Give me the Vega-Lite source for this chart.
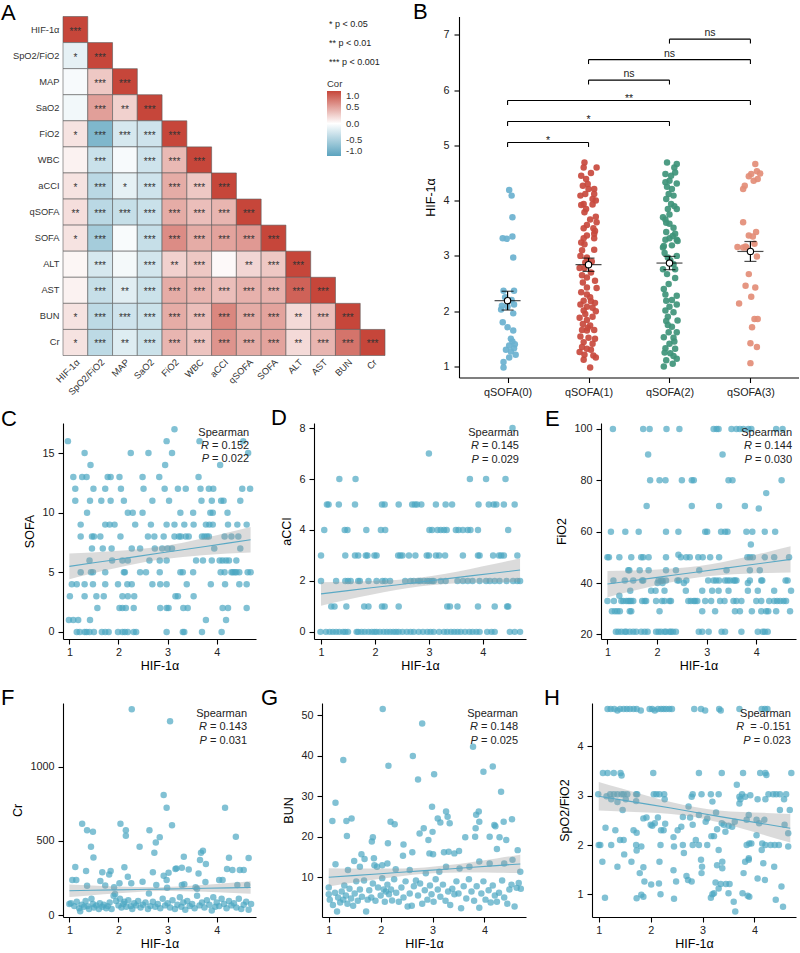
{
"$schema": "https://vega.github.io/schema/vega-lite/v6.json",
"padding": {"left": 1, "top": 0.5, "right": 0, "bottom": 0},
"background": "white",
"config": {
 "font": "Liberation Sans",
 "view": {"stroke": null},
 "axis": {"grid": false, "domainColor": "#000", "domainWidth": 1.1, "tickColor": "#000", "tickWidth": 1.1, "tickSize": 5, "labelColor": "#222", "labelFontSize": 10.8, "labelFont": "Liberation Sans", "titleFont": "Liberation Sans", "titleFontSize": 12.5, "titleFontWeight": "normal", "titleColor": "#000", "labelOverlap": false},
 "axisX": {"labelPadding": 2, "titlePadding": 3},
 "axisY": {"labelPadding": 4, "titlePadding": 5},
 "axisQuantitative": {"format": "d"},
 "title": {"fontSize": 22, "fontWeight": "normal", "anchor": "start", "frame": "group", "offset": 0, "font": "Liberation Sans", "color": "#000"},
 "text": {"font": "Liberation Sans"}
},
"datasets": {
 "corr": [
{"r":"HIF-1α","c":"HIF-1α","v":1,"s":"***"},
{"r":"SpO2/FiO2","c":"HIF-1α","v":-0.15,"s":"*"},
{"r":"SpO2/FiO2","c":"SpO2/FiO2","v":1,"s":"***"},
{"r":"MAP","c":"HIF-1α","v":-0.05,"s":""},
{"r":"MAP","c":"SpO2/FiO2","v":0.3,"s":"***"},
{"r":"MAP","c":"MAP","v":1,"s":"***"},
{"r":"SaO2","c":"HIF-1α","v":-0.08,"s":""},
{"r":"SaO2","c":"SpO2/FiO2","v":0.52,"s":"***"},
{"r":"SaO2","c":"MAP","v":0.25,"s":"**"},
{"r":"SaO2","c":"SaO2","v":1,"s":"***"},
{"r":"FiO2","c":"HIF-1α","v":0.15,"s":"*"},
{"r":"FiO2","c":"SpO2/FiO2","v":-0.78,"s":"***"},
{"r":"FiO2","c":"MAP","v":-0.25,"s":"***"},
{"r":"FiO2","c":"SaO2","v":-0.3,"s":"***"},
{"r":"FiO2","c":"FiO2","v":1,"s":"***"},
{"r":"WBC","c":"HIF-1α","v":0.07,"s":""},
{"r":"WBC","c":"SpO2/FiO2","v":-0.33,"s":"***"},
{"r":"WBC","c":"MAP","v":-0.05,"s":""},
{"r":"WBC","c":"SaO2","v":-0.3,"s":"***"},
{"r":"WBC","c":"FiO2","v":0.38,"s":"***"},
{"r":"WBC","c":"WBC","v":1,"s":"***"},
{"r":"aCCI","c":"HIF-1α","v":0.15,"s":"*"},
{"r":"aCCI","c":"SpO2/FiO2","v":-0.42,"s":"***"},
{"r":"aCCI","c":"MAP","v":-0.15,"s":"*"},
{"r":"aCCI","c":"SaO2","v":-0.3,"s":"***"},
{"r":"aCCI","c":"FiO2","v":0.45,"s":"***"},
{"r":"aCCI","c":"WBC","v":0.3,"s":"***"},
{"r":"aCCI","c":"aCCI","v":1,"s":"***"},
{"r":"qSOFA","c":"HIF-1α","v":0.18,"s":"**"},
{"r":"qSOFA","c":"SpO2/FiO2","v":-0.42,"s":"***"},
{"r":"qSOFA","c":"MAP","v":-0.35,"s":"***"},
{"r":"qSOFA","c":"SaO2","v":-0.33,"s":"***"},
{"r":"qSOFA","c":"FiO2","v":0.45,"s":"***"},
{"r":"qSOFA","c":"WBC","v":0.35,"s":"***"},
{"r":"qSOFA","c":"aCCI","v":0.4,"s":"***"},
{"r":"qSOFA","c":"qSOFA","v":1,"s":"***"},
{"r":"SOFA","c":"HIF-1α","v":0.15,"s":"*"},
{"r":"SOFA","c":"SpO2/FiO2","v":-0.55,"s":"***"},
{"r":"SOFA","c":"MAP","v":-0.04,"s":""},
{"r":"SOFA","c":"SaO2","v":-0.35,"s":"***"},
{"r":"SOFA","c":"FiO2","v":0.62,"s":"***"},
{"r":"SOFA","c":"WBC","v":0.45,"s":"***"},
{"r":"SOFA","c":"aCCI","v":0.5,"s":"***"},
{"r":"SOFA","c":"qSOFA","v":0.55,"s":"***"},
{"r":"SOFA","c":"SOFA","v":1,"s":"***"},
{"r":"ALT","c":"HIF-1α","v":0.05,"s":""},
{"r":"ALT","c":"SpO2/FiO2","v":-0.25,"s":"***"},
{"r":"ALT","c":"MAP","v":-0.07,"s":""},
{"r":"ALT","c":"SaO2","v":-0.27,"s":"***"},
{"r":"ALT","c":"FiO2","v":0.25,"s":"**"},
{"r":"ALT","c":"WBC","v":0.3,"s":"***"},
{"r":"ALT","c":"aCCI","v":0.03,"s":""},
{"r":"ALT","c":"qSOFA","v":0.22,"s":"**"},
{"r":"ALT","c":"SOFA","v":0.3,"s":"***"},
{"r":"ALT","c":"ALT","v":1,"s":"***"},
{"r":"AST","c":"HIF-1α","v":0.07,"s":""},
{"r":"AST","c":"SpO2/FiO2","v":-0.35,"s":"***"},
{"r":"AST","c":"MAP","v":-0.18,"s":"**"},
{"r":"AST","c":"SaO2","v":-0.32,"s":"***"},
{"r":"AST","c":"FiO2","v":0.45,"s":"***"},
{"r":"AST","c":"WBC","v":0.4,"s":"***"},
{"r":"AST","c":"aCCI","v":0.35,"s":"***"},
{"r":"AST","c":"qSOFA","v":0.42,"s":"***"},
{"r":"AST","c":"SOFA","v":0.42,"s":"***"},
{"r":"AST","c":"ALT","v":0.85,"s":"***"},
{"r":"AST","c":"AST","v":1,"s":"***"},
{"r":"BUN","c":"HIF-1α","v":0.15,"s":"*"},
{"r":"BUN","c":"SpO2/FiO2","v":-0.4,"s":"***"},
{"r":"BUN","c":"MAP","v":-0.3,"s":"***"},
{"r":"BUN","c":"SaO2","v":-0.32,"s":"***"},
{"r":"BUN","c":"FiO2","v":0.45,"s":"***"},
{"r":"BUN","c":"WBC","v":0.35,"s":"***"},
{"r":"BUN","c":"aCCI","v":0.65,"s":"***"},
{"r":"BUN","c":"qSOFA","v":0.45,"s":"***"},
{"r":"BUN","c":"SOFA","v":0.5,"s":"***"},
{"r":"BUN","c":"ALT","v":0.2,"s":"**"},
{"r":"BUN","c":"AST","v":0.35,"s":"***"},
{"r":"BUN","c":"BUN","v":1,"s":"***"},
{"r":"Cr","c":"HIF-1α","v":0.15,"s":"*"},
{"r":"Cr","c":"SpO2/FiO2","v":-0.4,"s":"***"},
{"r":"Cr","c":"MAP","v":-0.2,"s":"**"},
{"r":"Cr","c":"SaO2","v":-0.32,"s":"***"},
{"r":"Cr","c":"FiO2","v":0.4,"s":"***"},
{"r":"Cr","c":"WBC","v":0.32,"s":"***"},
{"r":"Cr","c":"aCCI","v":0.58,"s":"***"},
{"r":"Cr","c":"qSOFA","v":0.45,"s":"***"},
{"r":"Cr","c":"SOFA","v":0.5,"s":"***"},
{"r":"Cr","c":"ALT","v":0.2,"s":"**"},
{"r":"Cr","c":"AST","v":0.4,"s":"***"},
{"r":"Cr","c":"BUN","v":0.75,"s":"***"},
{"r":"Cr","c":"Cr","v":1,"s":"***"}
 ],
 "bpts": [
{"g":0,"x":0.02,"y":4.19},{"g":0,"x":0.05,"y":4.09},{"g":0,"x":0.06,"y":3.7},{"g":0,"x":-0.06,"y":3.32},{"g":0,"x":-0.01,"y":3.31},{"g":0,"x":0.06,"y":3.35},{"g":0,"x":0.07,"y":2.97},{"g":0,"x":-0.05,"y":2.37},{"g":0,"x":0.08,"y":2.37},{"g":0,"x":-0.07,"y":2.1},{"g":0,"x":0.0,"y":2.08},{"g":0,"x":0.08,"y":2.12},{"g":0,"x":0.07,"y":1.96},{"g":0,"x":-0.06,"y":1.8},{"g":0,"x":0.0,"y":1.71},{"g":0,"x":0.07,"y":1.65},{"g":0,"x":0.04,"y":1.5},{"g":0,"x":0.02,"y":1.38},{"g":0,"x":0.08,"y":1.33},{"g":0,"x":0.04,"y":1.27},{"g":0,"x":0.1,"y":1.21},{"g":0,"x":0.02,"y":1.16},{"g":0,"x":-0.05,"y":1.08},{"g":0,"x":-0.05,"y":0.98},{"g":0,"x":-0.03,"y":2.25},{"g":0,"x":0.05,"y":2.2},{"g":0,"x":-0.08,"y":2.03},{"g":0,"x":0.06,"y":1.45},{"g":0,"x":-0.02,"y":1.3},{"g":0,"x":0.09,"y":1.4},
{"g":1,"x":0.95,"y":4.69},{"g":1,"x":0.94,"y":4.6},{"g":1,"x":1.1,"y":4.6},{"g":1,"x":0.91,"y":4.45},{"g":1,"x":0.97,"y":4.39},{"g":1,"x":0.93,"y":4.27},{"g":1,"x":1.0,"y":4.21},{"g":1,"x":1.07,"y":4.21},{"g":1,"x":0.96,"y":4.12},{"g":1,"x":1.07,"y":4.12},{"g":1,"x":0.9,"y":4.09},{"g":1,"x":1.05,"y":4.03},{"g":1,"x":0.94,"y":3.94},{"g":1,"x":1.05,"y":3.93},{"g":1,"x":0.91,"y":3.92},{"g":1,"x":0.95,"y":3.79},{"g":1,"x":1.09,"y":3.71},{"g":1,"x":1.1,"y":3.61},{"g":1,"x":0.98,"y":3.56},{"g":1,"x":1.06,"y":3.5},{"g":1,"x":0.94,"y":3.5},{"g":1,"x":1.07,"y":3.4},{"g":1,"x":0.98,"y":3.37},{"g":1,"x":0.94,"y":3.32},{"g":1,"x":0.91,"y":3.24},{"g":1,"x":1.07,"y":3.32},{"g":1,"x":0.95,"y":3.21},{"g":1,"x":1.07,"y":3.11},{"g":1,"x":0.9,"y":3.0},{"g":1,"x":0.98,"y":2.97},{"g":1,"x":0.89,"y":2.78},{"g":1,"x":0.95,"y":2.78},{"g":1,"x":1.03,"y":2.7},{"g":1,"x":0.98,"y":2.61},{"g":1,"x":0.93,"y":2.52},{"g":1,"x":0.98,"y":2.43},{"g":1,"x":1.1,"y":2.42},{"g":1,"x":0.91,"y":2.34},{"g":1,"x":0.98,"y":2.3},{"g":1,"x":0.94,"y":2.19},{"g":1,"x":1.03,"y":2.18},{"g":1,"x":0.9,"y":2.12},{"g":1,"x":0.98,"y":2.08},{"g":1,"x":1.05,"y":2.06},{"g":1,"x":0.94,"y":2.01},{"g":1,"x":1.09,"y":2.0},{"g":1,"x":0.89,"y":1.88},{"g":1,"x":0.98,"y":1.84},{"g":1,"x":0.93,"y":1.77},{"g":1,"x":1.02,"y":1.74},{"g":1,"x":0.92,"y":1.66},{"g":1,"x":0.98,"y":1.65},{"g":1,"x":1.07,"y":1.66},{"g":1,"x":0.9,"y":1.54},{"g":1,"x":1.0,"y":1.52},{"g":1,"x":0.94,"y":1.44},{"g":1,"x":1.05,"y":1.41},{"g":1,"x":0.92,"y":1.35},{"g":1,"x":0.98,"y":1.32},{"g":1,"x":0.89,"y":1.26},{"g":1,"x":0.95,"y":1.21},{"g":1,"x":1.09,"y":1.16},{"g":1,"x":1.02,"y":0.98},{"g":1,"x":1.03,"y":4.5},{"g":1,"x":0.99,"y":4.3},{"g":1,"x":1.09,"y":4.0},{"g":1,"x":0.97,"y":3.85},{"g":1,"x":1.02,"y":3.66},{"g":1,"x":1.08,"y":3.45},{"g":1,"x":0.92,"y":3.1},{"g":1,"x":1.04,"y":2.9},{"g":1,"x":0.96,"y":2.88},{"g":1,"x":1.08,"y":2.55},{"g":1,"x":0.92,"y":2.65},{"g":1,"x":1.02,"y":2.25},{"g":1,"x":1.08,"y":2.15},{"g":1,"x":0.96,"y":1.95},{"g":1,"x":1.05,"y":1.9},{"g":1,"x":0.99,"y":1.7},{"g":1,"x":1.08,"y":1.5},{"g":1,"x":1.03,"y":1.3},{"g":1,"x":0.94,"y":1.12},{"g":1,"x":1.06,"y":1.2},
{"g":2,"x":1.97,"y":4.69},{"g":2,"x":2.09,"y":4.66},{"g":2,"x":2.06,"y":4.6},{"g":2,"x":1.95,"y":4.48},{"g":2,"x":2.07,"y":4.51},{"g":2,"x":2.0,"y":4.36},{"g":2,"x":2.09,"y":4.31},{"g":2,"x":1.95,"y":4.33},{"g":2,"x":2.03,"y":4.21},{"g":2,"x":1.99,"y":4.12},{"g":2,"x":2.05,"y":4.09},{"g":2,"x":1.96,"y":4.03},{"g":2,"x":2.02,"y":3.94},{"g":2,"x":1.98,"y":3.85},{"g":2,"x":2.09,"y":3.85},{"g":2,"x":2.0,"y":3.75},{"g":2,"x":1.92,"y":3.7},{"g":2,"x":1.95,"y":3.66},{"g":2,"x":2.0,"y":3.58},{"g":2,"x":2.05,"y":3.51},{"g":2,"x":1.96,"y":3.43},{"g":2,"x":2.07,"y":3.4},{"g":2,"x":2.0,"y":3.32},{"g":2,"x":1.95,"y":3.29},{"g":2,"x":2.09,"y":3.29},{"g":2,"x":1.92,"y":3.15},{"g":2,"x":2.03,"y":3.19},{"g":2,"x":2.1,"y":3.27},{"g":2,"x":1.93,"y":3.18},{"g":2,"x":2.09,"y":3.0},{"g":2,"x":1.98,"y":2.97},{"g":2,"x":2.05,"y":2.85},{"g":2,"x":1.92,"y":2.76},{"g":2,"x":2.07,"y":2.76},{"g":2,"x":1.97,"y":2.67},{"g":2,"x":1.99,"y":2.49},{"g":2,"x":1.93,"y":2.4},{"g":2,"x":2.09,"y":2.28},{"g":2,"x":1.96,"y":2.19},{"g":2,"x":2.09,"y":2.12},{"g":2,"x":2.0,"y":2.08},{"g":2,"x":1.95,"y":2.01},{"g":2,"x":2.05,"y":1.98},{"g":2,"x":1.98,"y":1.9},{"g":2,"x":2.1,"y":1.83},{"g":2,"x":1.96,"y":1.82},{"g":2,"x":2.03,"y":1.72},{"g":2,"x":1.99,"y":1.62},{"g":2,"x":2.09,"y":1.62},{"g":2,"x":1.93,"y":1.53},{"g":2,"x":2.05,"y":1.52},{"g":2,"x":2.0,"y":1.41},{"g":2,"x":1.95,"y":1.33},{"g":2,"x":2.07,"y":1.32},{"g":2,"x":2.01,"y":1.24},{"g":2,"x":2.05,"y":1.19},{"g":2,"x":2.09,"y":1.14},{"g":2,"x":1.96,"y":1.11},{"g":2,"x":1.93,"y":1.0},{"g":2,"x":2.02,"y":4.45},{"g":2,"x":1.97,"y":4.25},{"g":2,"x":2.06,"y":3.9},{"g":2,"x":1.96,"y":3.6},{"g":2,"x":2.04,"y":3.36},{"g":2,"x":1.94,"y":3.05},{"g":2,"x":2.01,"y":2.92},{"g":2,"x":2.07,"y":2.6},{"g":2,"x":1.95,"y":2.3},{"g":2,"x":2.03,"y":2.2},{"g":2,"x":1.98,"y":1.75},{"g":2,"x":2.06,"y":1.45},{"g":2,"x":1.94,"y":1.25},{"g":2,"x":2.04,"y":1.05},
{"g":3,"x":3.06,"y":4.66},{"g":3,"x":3.08,"y":4.53},{"g":3,"x":3.01,"y":4.48},{"g":3,"x":3.12,"y":4.49},{"g":3,"x":2.98,"y":4.44},{"g":3,"x":3.04,"y":4.36},{"g":3,"x":3.09,"y":4.39},{"g":3,"x":2.93,"y":4.27},{"g":3,"x":2.91,"y":4.21},{"g":3,"x":2.91,"y":3.61},{"g":3,"x":3.07,"y":3.43},{"g":3,"x":2.98,"y":3.37},{"g":3,"x":3.03,"y":3.35},{"g":3,"x":2.91,"y":3.15},{"g":3,"x":2.95,"y":3.15},{"g":3,"x":2.84,"y":3.16},{"g":3,"x":2.94,"y":3.17},{"g":3,"x":3.08,"y":2.99},{"g":3,"x":3.05,"y":3.22},{"g":3,"x":2.98,"y":2.67},{"g":3,"x":2.94,"y":2.46},{"g":3,"x":3.06,"y":2.43},{"g":3,"x":3.01,"y":2.26},{"g":3,"x":2.86,"y":2.14},{"g":3,"x":3.05,"y":1.86},{"g":3,"x":3.09,"y":1.86},{"g":3,"x":3.02,"y":1.71},{"g":3,"x":3.0,"y":1.42},{"g":3,"x":3.08,"y":1.35},{"g":3,"x":3.0,"y":1.06}
 ],
 "bsum": [
{"g":0,"m":2.19,"lo":2.02,"hi":2.36},{"g":1,"m":2.84,"lo":2.72,"hi":2.96},{"g":2,"m":2.87,"lo":2.75,"hi":2.99},{"g":3,"m":3.08,"lo":2.9,"hi":3.26}
 ],
 "bbr": [
{"a":0,"b":1,"m":0.5,"h":5.05,"t":4.97,"lab":"*"},
{"a":0,"b":2,"m":1,"h":5.43,"t":5.35,"lab":"*"},
{"a":0,"b":3,"m":1.5,"h":5.81,"t":5.73,"lab":"**"},
{"a":1,"b":2,"m":1.5,"h":6.18,"t":6.1,"lab":"ns"},
{"a":1,"b":3,"m":2,"h":6.55,"t":6.47,"lab":"ns"},
{"a":2,"b":3,"m":2.5,"h":6.92,"t":6.84,"lab":"ns"}
 ],
 "c": [
{"x":1.08,"y":13},{"x":1.26,"y":13},{"x":1.35,"y":13},{"x":1.78,"y":13},{"x":1.84,"y":13},{"x":2.02,"y":13},{"x":2.49,"y":13},{"x":2.83,"y":13},{"x":3.63,"y":13},
{"x":1.12,"y":12},{"x":1.49,"y":12},{"x":1.73,"y":12},{"x":2.05,"y":12},{"x":2.51,"y":12},{"x":2.94,"y":12},{"x":3.21,"y":12},{"x":3.37,"y":12},{"x":3.67,"y":12},{"x":3.84,"y":12},{"x":3.93,"y":12},{"x":4.52,"y":12},{"x":4.68,"y":12},
{"x":1.12,"y":11},{"x":1.42,"y":11},{"x":1.65,"y":11},{"x":1.84,"y":11},{"x":2.11,"y":11},{"x":2.69,"y":11},{"x":3.03,"y":11},{"x":3.69,"y":11},{"x":3.9,"y":11},{"x":4.09,"y":11},{"x":4.14,"y":11},{"x":4.48,"y":11},
{"x":1.36,"y":10},{"x":2.19,"y":10},{"x":2.29,"y":10},{"x":2.49,"y":10},{"x":3.26,"y":10},{"x":3.52,"y":10},{"x":3.87,"y":10},{"x":3.92,"y":10},{"x":4.22,"y":10},
{"x":1.23,"y":9},{"x":1.73,"y":9},{"x":1.82,"y":9},{"x":1.92,"y":9},{"x":2.34,"y":9},{"x":2.66,"y":9},{"x":2.98,"y":9},{"x":3.14,"y":9},{"x":3.34,"y":9},{"x":3.53,"y":9},{"x":3.78,"y":9},{"x":3.85,"y":9},{"x":3.92,"y":9},{"x":4.23,"y":9},{"x":4.42,"y":9},{"x":4.61,"y":9},
{"x":1.23,"y":8},{"x":1.46,"y":8},{"x":1.5,"y":8},{"x":1.63,"y":8},{"x":2.04,"y":8},{"x":2.6,"y":8},{"x":2.73,"y":8},{"x":2.92,"y":8},{"x":3.14,"y":8},{"x":3.23,"y":8},{"x":3.27,"y":8},{"x":3.37,"y":8},{"x":3.43,"y":8},{"x":3.7,"y":8},{"x":3.75,"y":8},{"x":3.8,"y":8},{"x":3.84,"y":8},{"x":4.16,"y":8},{"x":4.3,"y":8},{"x":4.44,"y":8},
{"x":1.46,"y":7},{"x":1.68,"y":7},{"x":1.86,"y":7},{"x":2.27,"y":7},{"x":2.44,"y":7},{"x":2.74,"y":7},{"x":2.89,"y":7},{"x":3.0,"y":7},{"x":3.09,"y":7},{"x":3.95,"y":7},{"x":4.48,"y":7},
{"x":1.41,"y":6},{"x":1.87,"y":6},{"x":2.08,"y":6},{"x":2.19,"y":6},{"x":2.63,"y":6},{"x":2.84,"y":6},{"x":2.98,"y":6},{"x":3.58,"y":6},{"x":3.72,"y":6},{"x":3.9,"y":6},{"x":4.06,"y":6},{"x":4.12,"y":6},{"x":4.19,"y":6},{"x":4.25,"y":6},{"x":4.4,"y":6},
{"x":1.23,"y":5},{"x":1.44,"y":5},{"x":1.48,"y":5},{"x":1.73,"y":5},{"x":2.11,"y":5},{"x":2.13,"y":5},{"x":2.44,"y":5},{"x":2.56,"y":5},{"x":2.84,"y":5},{"x":3.26,"y":5},{"x":3.31,"y":5},{"x":3.52,"y":5},{"x":4.08,"y":5},{"x":4.16,"y":5},{"x":4.3,"y":5},{"x":4.33,"y":5},{"x":4.37,"y":5},{"x":4.4,"y":5},{"x":4.46,"y":5},{"x":4.63,"y":5},{"x":4.69,"y":5},
{"x":1.05,"y":4},{"x":1.15,"y":4},{"x":1.31,"y":4},{"x":1.48,"y":4},{"x":1.73,"y":4},{"x":1.99,"y":4},{"x":2.18,"y":4},{"x":2.27,"y":4},{"x":2.69,"y":4},{"x":2.85,"y":4},{"x":2.98,"y":4},{"x":3.39,"y":4},{"x":3.88,"y":4},{"x":4.17,"y":4},{"x":4.46,"y":4},{"x":4.61,"y":4},
{"x":1.01,"y":3},{"x":1.31,"y":3},{"x":1.55,"y":3},{"x":1.7,"y":3},{"x":2.08,"y":3},{"x":2.19,"y":3},{"x":2.32,"y":3},{"x":3.16,"y":3},{"x":3.21,"y":3},{"x":3.53,"y":3},
{"x":1.57,"y":2},{"x":2.02,"y":2},{"x":2.08,"y":2},{"x":2.15,"y":2},{"x":2.31,"y":2},{"x":2.85,"y":2},{"x":2.98,"y":2},{"x":3.02,"y":2},{"x":3.32,"y":2},{"x":3.41,"y":2},{"x":4.12,"y":2},{"x":4.23,"y":2},{"x":4.61,"y":2},
{"x":0.99,"y":1},{"x":1.08,"y":1},{"x":1.18,"y":1},{"x":1.42,"y":1},{"x":3.78,"y":1},{"x":4.19,"y":1},
{"x":1.15,"y":0},{"x":1.21,"y":0},{"x":1.31,"y":0},{"x":1.35,"y":0},{"x":1.41,"y":0},{"x":1.5,"y":0},{"x":1.66,"y":0},{"x":1.73,"y":0},{"x":1.8,"y":0},{"x":1.99,"y":0},{"x":2.08,"y":0},{"x":2.13,"y":0},{"x":2.19,"y":0},{"x":2.31,"y":0},{"x":2.36,"y":0},{"x":2.98,"y":0},{"x":3.31,"y":0},{"x":3.34,"y":0},{"x":3.7,"y":0},{"x":4.1,"y":0},
{"x":1.43,"y":14},{"x":2.95,"y":14},{"x":4.07,"y":14},
{"x":1.31,"y":15},{"x":2.25,"y":15},{"x":2.61,"y":15},{"x":3.09,"y":15},{"x":4.64,"y":15},
{"x":0.97,"y":16},{"x":2.98,"y":16},{"x":3.65,"y":16},{"x":4.54,"y":16},
{"x":3.14,"y":17}
 ],
 "cf": [
{"x":1.0,"lo":4.43,"hi":6.57,"fit":5.5},{"x":1.46,"lo":4.9,"hi":6.66,"fit":5.78},{"x":1.93,"lo":5.34,"hi":6.78,"fit":6.06},{"x":2.39,"lo":5.74,"hi":6.94,"fit":6.34},{"x":2.85,"lo":6.07,"hi":7.17,"fit":6.62},{"x":3.31,"lo":6.29,"hi":7.49,"fit":6.89},{"x":3.77,"lo":6.45,"hi":7.89,"fit":7.17},{"x":4.23,"lo":6.57,"hi":8.33,"fit":7.45},{"x":4.69,"lo":6.66,"hi":8.8,"fit":7.73}
 ],
 "d": [
{"x":3.0,"y":7},{"x":4.55,"y":8},
{"x":1.34,"y":6},{"x":1.64,"y":6},{"x":3.76,"y":6},{"x":4.06,"y":6},{"x":4.42,"y":6},
{"x":1.11,"y":5},{"x":1.14,"y":5},{"x":1.33,"y":5},{"x":1.63,"y":5},{"x":2.13,"y":5},{"x":2.18,"y":5},{"x":2.44,"y":5},{"x":2.69,"y":5},{"x":2.74,"y":5},{"x":2.78,"y":5},{"x":2.86,"y":5},{"x":3.13,"y":5},{"x":3.31,"y":5},{"x":3.43,"y":5},{"x":3.92,"y":5},{"x":4.11,"y":5},{"x":4.2,"y":5},{"x":4.25,"y":5},{"x":4.39,"y":5},{"x":4.59,"y":5},
{"x":1.06,"y":4},{"x":1.44,"y":4},{"x":1.49,"y":4},{"x":1.84,"y":4},{"x":2.11,"y":4},{"x":2.19,"y":4},{"x":3.01,"y":4},{"x":3.06,"y":4},{"x":3.16,"y":4},{"x":3.22,"y":4},{"x":3.28,"y":4},{"x":3.33,"y":4},{"x":3.5,"y":4},{"x":3.55,"y":4},{"x":3.63,"y":4},{"x":3.72,"y":4},{"x":3.77,"y":4},{"x":3.91,"y":4},{"x":4.47,"y":4},
{"x":1.0,"y":3},{"x":1.45,"y":3},{"x":1.63,"y":3},{"x":1.69,"y":3},{"x":1.83,"y":3},{"x":1.86,"y":3},{"x":1.99,"y":3},{"x":2.03,"y":3},{"x":2.43,"y":3},{"x":2.47,"y":3},{"x":2.51,"y":3},{"x":2.63,"y":3},{"x":2.75,"y":3},{"x":2.96,"y":3},{"x":3.0,"y":3},{"x":3.13,"y":3},{"x":3.19,"y":3},{"x":3.3,"y":3},{"x":3.63,"y":3},{"x":3.91,"y":3},{"x":3.94,"y":3},{"x":4.19,"y":3},{"x":4.3,"y":3},{"x":4.34,"y":3},{"x":4.39,"y":3},{"x":4.64,"y":3},
{"x":1.0,"y":2},{"x":1.28,"y":2},{"x":1.45,"y":2},{"x":1.5,"y":2},{"x":1.55,"y":2},{"x":1.69,"y":2},{"x":1.72,"y":2},{"x":1.88,"y":2},{"x":2.03,"y":2},{"x":2.14,"y":2},{"x":2.19,"y":2},{"x":2.28,"y":2},{"x":2.56,"y":2},{"x":2.66,"y":2},{"x":2.72,"y":2},{"x":2.8,"y":2},{"x":2.84,"y":2},{"x":2.91,"y":2},{"x":2.97,"y":2},{"x":3.01,"y":2},{"x":3.06,"y":2},{"x":3.09,"y":2},{"x":3.22,"y":2},{"x":3.31,"y":2},{"x":3.53,"y":2},{"x":3.63,"y":2},{"x":3.72,"y":2},{"x":3.81,"y":2},{"x":3.94,"y":2},{"x":4.06,"y":2},{"x":4.13,"y":2},{"x":4.22,"y":2},{"x":4.31,"y":2},{"x":4.44,"y":2},{"x":4.56,"y":2},{"x":4.64,"y":2},{"x":4.69,"y":2},
{"x":1.19,"y":1},{"x":1.25,"y":1},{"x":1.47,"y":1},{"x":1.8,"y":1},{"x":1.88,"y":1},{"x":2.13,"y":1},{"x":2.18,"y":1},{"x":2.44,"y":1},{"x":3.34,"y":1},{"x":3.39,"y":1},{"x":3.53,"y":1},{"x":3.91,"y":1},{"x":4.22,"y":1},{"x":4.45,"y":1},{"x":4.47,"y":1},
{"x":0.99,"y":0},{"x":1.09,"y":0},{"x":1.16,"y":0},{"x":1.22,"y":0},{"x":1.28,"y":0},{"x":1.34,"y":0},{"x":1.41,"y":0},{"x":1.45,"y":0},{"x":1.5,"y":0},{"x":1.66,"y":0},{"x":1.69,"y":0},{"x":1.75,"y":0},{"x":1.81,"y":0},{"x":1.88,"y":0},{"x":1.94,"y":0},{"x":1.99,"y":0},{"x":2.03,"y":0},{"x":2.09,"y":0},{"x":2.16,"y":0},{"x":2.22,"y":0},{"x":2.28,"y":0},{"x":2.34,"y":0},{"x":2.39,"y":0},{"x":2.44,"y":0},{"x":2.51,"y":0},{"x":2.59,"y":0},{"x":2.66,"y":0},{"x":2.72,"y":0},{"x":2.81,"y":0},{"x":2.89,"y":0},{"x":2.97,"y":0},{"x":3.03,"y":0},{"x":3.09,"y":0},{"x":3.19,"y":0},{"x":3.28,"y":0},{"x":3.34,"y":0},{"x":3.41,"y":0},{"x":3.47,"y":0},{"x":3.53,"y":0},{"x":3.59,"y":0},{"x":3.67,"y":0},{"x":3.75,"y":0},{"x":3.81,"y":0},{"x":3.88,"y":0},{"x":3.94,"y":0},{"x":4.08,"y":0},{"x":4.16,"y":0},{"x":4.22,"y":0},{"x":4.5,"y":0},{"x":4.59,"y":0},{"x":4.69,"y":0}
 ],
 "df": [
{"x":1.0,"lo":1.03,"hi":1.95,"fit":1.49},{"x":1.46,"lo":1.25,"hi":1.97,"fit":1.61},{"x":1.93,"lo":1.46,"hi":2.0,"fit":1.73},{"x":2.39,"lo":1.64,"hi":2.04,"fit":1.84},{"x":2.85,"lo":1.79,"hi":2.13,"fit":1.96},{"x":3.31,"lo":1.88,"hi":2.28,"fit":2.08},{"x":3.77,"lo":1.93,"hi":2.47,"fit":2.2},{"x":4.23,"lo":1.95,"hi":2.67,"fit":2.31},{"x":4.69,"lo":1.97,"hi":2.89,"fit":2.43}
 ],
 "e": [
{"x":1.11,"y":100},{"x":1.72,"y":100},{"x":1.85,"y":100},{"x":2.19,"y":100},{"x":2.45,"y":100},{"x":3.14,"y":100},{"x":3.2,"y":100},{"x":3.24,"y":100},{"x":3.5,"y":100},{"x":3.6,"y":100},{"x":3.67,"y":100},{"x":3.74,"y":100},{"x":3.84,"y":100},{"x":3.9,"y":100},{"x":4.4,"y":100},{"x":4.53,"y":100},
{"x":1.82,"y":90},{"x":3.32,"y":90},
{"x":1.86,"y":80},{"x":2.05,"y":80},{"x":2.17,"y":80},{"x":2.5,"y":80},{"x":2.7,"y":80},{"x":2.74,"y":80},{"x":3.44,"y":80},{"x":3.52,"y":80},{"x":4.51,"y":80},
{"x":4.2,"y":75},{"x":1.79,"y":70},{"x":2.7,"y":70},{"x":3.25,"y":70},{"x":3.77,"y":70},{"x":4.05,"y":69},
{"x":1.07,"y":60},{"x":1.36,"y":60},{"x":1.63,"y":60},{"x":2.18,"y":60},{"x":2.43,"y":60},{"x":2.97,"y":60},{"x":3.01,"y":60},{"x":3.29,"y":60},{"x":3.37,"y":60},{"x":3.42,"y":60},{"x":3.8,"y":60},{"x":3.92,"y":60},{"x":4.17,"y":60},{"x":4.38,"y":60},
{"x":3.89,"y":55},
{"x":1.0,"y":50},{"x":1.03,"y":50},{"x":1.24,"y":50},{"x":1.48,"y":50},{"x":1.68,"y":50},{"x":1.72,"y":50},{"x":1.83,"y":50},{"x":2.18,"y":50},{"x":2.43,"y":51},{"x":2.48,"y":50},{"x":2.59,"y":50},{"x":2.66,"y":50},{"x":2.83,"y":50},{"x":2.92,"y":50},{"x":3.07,"y":50},{"x":3.25,"y":50},{"x":3.82,"y":50},{"x":3.87,"y":50},{"x":3.93,"y":50},{"x":4.17,"y":50},{"x":4.36,"y":50},{"x":4.66,"y":50},
{"x":1.42,"y":45},{"x":1.44,"y":45},{"x":1.65,"y":45},{"x":1.83,"y":45},{"x":2.18,"y":45},{"x":2.38,"y":45},{"x":2.85,"y":45},{"x":3.4,"y":45},{"x":3.87,"y":45},{"x":4.07,"y":45},
{"x":1.12,"y":41},{"x":1.35,"y":41},{"x":1.52,"y":41},{"x":1.7,"y":41},{"x":1.72,"y":41},{"x":2.03,"y":41},{"x":2.08,"y":41},{"x":2.11,"y":41},{"x":2.18,"y":41},{"x":2.41,"y":41},{"x":2.44,"y":41},{"x":2.59,"y":41},{"x":3.03,"y":41},{"x":3.14,"y":41},{"x":3.19,"y":41},{"x":3.25,"y":41},{"x":3.37,"y":41},{"x":3.42,"y":41},{"x":3.47,"y":41},{"x":3.54,"y":41},{"x":3.57,"y":41},{"x":3.6,"y":41},{"x":3.87,"y":41},{"x":4.1,"y":41},{"x":4.12,"y":41},{"x":4.59,"y":41},{"x":4.63,"y":41},
{"x":2.01,"y":40},{"x":2.11,"y":40},{"x":2.54,"y":40},{"x":3.83,"y":40},
{"x":1.46,"y":37},{"x":1.88,"y":37},{"x":1.97,"y":37},{"x":2.15,"y":37},{"x":2.58,"y":37},{"x":2.91,"y":37},{"x":3.11,"y":37},{"x":3.24,"y":37},{"x":3.44,"y":37},{"x":3.83,"y":37},{"x":4.03,"y":37},{"x":4.36,"y":37},{"x":4.7,"y":37},
{"x":1.24,"y":35},
{"x":1.0,"y":33},{"x":1.13,"y":33},{"x":1.28,"y":33},{"x":1.32,"y":33},{"x":1.38,"y":33},{"x":1.42,"y":33},{"x":1.45,"y":33},{"x":1.48,"y":33},{"x":1.52,"y":33},{"x":1.7,"y":33},{"x":1.75,"y":33},{"x":1.78,"y":33},{"x":1.98,"y":33},{"x":2.1,"y":33},{"x":2.15,"y":33},{"x":2.25,"y":33},{"x":2.28,"y":33},{"x":2.63,"y":33},{"x":2.68,"y":33},{"x":2.74,"y":33},{"x":2.77,"y":33},{"x":2.81,"y":33},{"x":2.97,"y":33},{"x":3.09,"y":33},{"x":3.27,"y":33},{"x":3.36,"y":33},{"x":3.54,"y":33},{"x":3.6,"y":33},{"x":3.7,"y":33},{"x":4.0,"y":33},{"x":4.1,"y":33},{"x":4.26,"y":33},{"x":4.36,"y":33},{"x":4.42,"y":33},{"x":4.48,"y":33},{"x":4.55,"y":33},{"x":4.6,"y":33},
{"x":1.09,"y":29},{"x":1.15,"y":29},{"x":1.2,"y":29},{"x":1.25,"y":29},{"x":1.45,"y":29},{"x":1.48,"y":29},{"x":2.05,"y":29},{"x":2.91,"y":29},{"x":3.17,"y":29},{"x":3.57,"y":29},{"x":3.67,"y":29},{"x":3.91,"y":29},{"x":4.1,"y":29},{"x":4.2,"y":29},{"x":4.24,"y":29},{"x":4.4,"y":29},{"x":4.68,"y":29},
{"x":1.17,"y":21},{"x":1.22,"y":21},{"x":1.28,"y":21},{"x":1.35,"y":21},{"x":1.38,"y":21},{"x":1.45,"y":21},{"x":1.52,"y":21},{"x":1.58,"y":21},{"x":1.68,"y":21},{"x":1.75,"y":21},{"x":1.81,"y":21},{"x":1.98,"y":21},{"x":2.03,"y":21},{"x":2.08,"y":21},{"x":2.15,"y":21},{"x":2.18,"y":21},{"x":2.25,"y":21},{"x":2.28,"y":21},{"x":2.32,"y":21},{"x":2.38,"y":21},{"x":2.84,"y":21},{"x":2.91,"y":21},{"x":3.04,"y":21},{"x":3.3,"y":21},{"x":3.37,"y":21},{"x":3.7,"y":21},{"x":4.03,"y":21},{"x":4.13,"y":21},{"x":4.17,"y":21},{"x":4.23,"y":21}
 ],
 "ef": [
{"x":1.0,"lo":34.5,"hi":44.7,"fit":39.6},{"x":1.46,"lo":36.7,"hi":44.9,"fit":40.8},{"x":1.93,"lo":38.8,"hi":45.2,"fit":42.0},{"x":2.39,"lo":40.7,"hi":45.7,"fit":43.2},{"x":2.85,"lo":42.2,"hi":46.6,"fit":44.4},{"x":3.31,"lo":43.1,"hi":48.1,"fit":45.6},{"x":3.77,"lo":43.6,"hi":50.0,"fit":46.8},{"x":4.23,"lo":43.9,"hi":52.1,"fit":48.0},{"x":4.69,"lo":44.1,"hi":54.3,"fit":49.2}
 ],
 "f": [
{"x":2.27,"y":1390},{"x":3.05,"y":1309},{"x":2.92,"y":810},{"x":2.98,"y":724},{"x":4.17,"y":724},{"x":3.09,"y":607},
{"x":1.26,"y":616},{"x":1.36,"y":573},{"x":1.48,"y":562},{"x":1.44,"y":461},{"x":1.49,"y":389},{"x":1.34,"y":297},{"x":1.12,"y":324},{"x":1.06,"y":236},{"x":1.14,"y":236},{"x":1.36,"y":198},{"x":1.67,"y":288},{"x":1.84,"y":297},{"x":1.81,"y":274},{"x":1.63,"y":229},{"x":1.73,"y":200},{"x":2.04,"y":616},{"x":2.15,"y":573},{"x":2.15,"y":535},{"x":2.12,"y":322},{"x":2.19,"y":259},{"x":2.02,"y":214},{"x":2.26,"y":214},{"x":2.43,"y":461},{"x":2.63,"y":573},{"x":2.84,"y":526},{"x":2.76,"y":490},{"x":2.73,"y":420},{"x":2.7,"y":288},{"x":2.77,"y":202},{"x":2.92,"y":265},{"x":2.98,"y":236},{"x":3.02,"y":286},{"x":2.99,"y":184},{"x":3.16,"y":310},{"x":3.18,"y":315},{"x":3.33,"y":394},{"x":3.29,"y":319},{"x":3.29,"y":202},{"x":3.43,"y":308},{"x":3.63,"y":281},{"x":3.66,"y":371},{"x":3.68,"y":420},{"x":3.72,"y":434},{"x":3.78,"y":344},{"x":3.77,"y":223},{"x":3.57,"y":187},{"x":4.05,"y":236},{"x":4.12,"y":236},{"x":4.21,"y":310},{"x":4.25,"y":387},{"x":4.32,"y":304},{"x":4.39,"y":528},{"x":4.47,"y":304},{"x":4.55,"y":304},{"x":4.65,"y":385},{"x":4.62,"y":202},{"x":4.42,"y":202},{"x":3.6,"y":178},{"x":3.34,"y":207},{"x":2.49,"y":225},{"x":2.62,"y":146},{"x":1.93,"y":142},{"x":1.91,"y":187},
{"x":1.0,"y":75},{"x":1.03,"y":80},{"x":1.1,"y":60},{"x":1.15,"y":90},{"x":1.2,"y":45},{"x":1.22,"y":25},{"x":1.25,"y":70},{"x":1.3,"y":55},{"x":1.33,"y":95},{"x":1.37,"y":60},{"x":1.4,"y":40},{"x":1.45,"y":110},{"x":1.48,"y":75},{"x":1.5,"y":50},{"x":1.55,"y":65},{"x":1.6,"y":40},{"x":1.62,"y":80},{"x":1.67,"y":55},{"x":1.7,"y":70},{"x":1.75,"y":45},{"x":1.78,"y":60},{"x":1.82,"y":85},{"x":1.86,"y":40},{"x":1.9,"y":130},{"x":1.95,"y":95},{"x":2.0,"y":65},{"x":2.03,"y":110},{"x":2.06,"y":50},{"x":2.1,"y":75},{"x":2.12,"y":90},{"x":2.16,"y":55},{"x":2.2,"y":100},{"x":2.25,"y":60},{"x":2.28,"y":40},{"x":2.32,"y":80},{"x":2.36,"y":65},{"x":2.4,"y":95},{"x":2.45,"y":50},{"x":2.5,"y":70},{"x":2.55,"y":85},{"x":2.6,"y":40},{"x":2.65,"y":60},{"x":2.7,"y":90},{"x":2.75,"y":55},{"x":2.8,"y":75},{"x":2.85,"y":45},{"x":2.9,"y":110},{"x":2.95,"y":65},{"x":3.0,"y":80},{"x":3.05,"y":50},{"x":3.1,"y":100},{"x":3.15,"y":40},{"x":3.2,"y":70},{"x":3.25,"y":120},{"x":3.28,"y":55},{"x":3.32,"y":85},{"x":3.36,"y":35},{"x":3.4,"y":95},{"x":3.45,"y":60},{"x":3.5,"y":75},{"x":3.55,"y":45},{"x":3.6,"y":130},{"x":3.65,"y":65},{"x":3.7,"y":85},{"x":3.75,"y":50},{"x":3.8,"y":100},{"x":3.85,"y":70},{"x":3.9,"y":30},{"x":3.93,"y":120},{"x":3.97,"y":55},{"x":4.0,"y":85},{"x":4.05,"y":60},{"x":4.1,"y":110},{"x":4.15,"y":75},{"x":4.2,"y":45},{"x":4.25,"y":95},{"x":4.3,"y":65},{"x":4.35,"y":80},{"x":4.4,"y":50},{"x":4.45,"y":110},{"x":4.5,"y":40},{"x":4.55,"y":70},{"x":4.6,"y":90},{"x":4.65,"y":35},{"x":4.7,"y":75}
 ],
 "ff": [
{"x":1.0,"lo":122,"hi":206,"fit":164},{"x":1.46,"lo":134,"hi":199,"fit":166.8},{"x":1.93,"lo":146,"hi":193,"fit":169.5},{"x":2.39,"lo":156,"hi":189,"fit":172.3},{"x":2.85,"lo":162,"hi":188,"fit":175},{"x":3.31,"lo":161,"hi":194,"fit":177.8},{"x":3.77,"lo":157,"hi":204,"fit":180.5},{"x":4.23,"lo":151,"hi":216,"fit":183.3},{"x":4.69,"lo":144,"hi":228,"fit":186}
 ],
 "g": [
{"x":2.04,"y":51.5},{"x":2.8,"y":47.9},{"x":1.28,"y":38.9},{"x":2.15,"y":37.5},{"x":2.62,"y":39.9},{"x":2.72,"y":34.1},{"x":3.03,"y":35.4},{"x":3.78,"y":42.2},{"x":3.98,"y":36.0},{"x":4.16,"y":37.3},{"x":4.32,"y":31.1},{"x":1.13,"y":28.4},{"x":1.07,"y":23.9},{"x":1.34,"y":23.9},{"x":1.44,"y":24.5},{"x":1.35,"y":20.2},{"x":2.27,"y":23.1},{"x":2.19,"y":23.7},{"x":2.14,"y":18.4},{"x":1.85,"y":19.9},{"x":1.83,"y":18.8},{"x":2.44,"y":18.1},{"x":2.43,"y":15.3},{"x":2.99,"y":27.4},{"x":3.0,"y":21.2},{"x":2.83,"y":22.1},{"x":2.75,"y":20.8},{"x":2.92,"y":19.2},{"x":2.94,"y":15.9},{"x":3.01,"y":15.7},{"x":3.1,"y":24.5},{"x":3.15,"y":23.5},{"x":3.26,"y":26.2},{"x":3.29,"y":24.9},{"x":3.33,"y":23.3},{"x":3.31,"y":16.3},{"x":3.42,"y":15.9},{"x":3.9,"y":23.7},{"x":3.84,"y":25.4},{"x":3.89,"y":26.2},{"x":3.83,"y":22.1},{"x":3.63,"y":19.9},{"x":3.82,"y":20.0},{"x":4.1,"y":20.0},{"x":4.29,"y":19.9},{"x":4.42,"y":19.2},{"x":4.53,"y":24.3},{"x":4.37,"y":23.7},{"x":4.19,"y":22.9},{"x":4.21,"y":22.6},{"x":4.64,"y":16.7},{"x":4.24,"y":17.0},{"x":3.51,"y":16.5},{"x":3.22,"y":16.2},{"x":2.61,"y":16.2},{"x":1.63,"y":15.7},{"x":1.69,"y":14.5},{"x":1.49,"y":14.0},{"x":1.13,"y":13.2},{"x":1.87,"y":14.7},{"x":1.88,"y":13.0},{"x":2.03,"y":13.0},{"x":2.13,"y":13.4},{"x":1.93,"y":12.6},{"x":2.29,"y":12.0},{"x":2.56,"y":11.8},{"x":2.87,"y":11.0},{"x":3.13,"y":11.4},{"x":3.26,"y":12.6},{"x":3.52,"y":12.2},{"x":3.71,"y":12.6},{"x":3.9,"y":13.9},{"x":4.1,"y":13.4},{"x":4.38,"y":13.4},{"x":4.54,"y":14.3},{"x":4.69,"y":11.4},{"x":1.6,"y":12.6},{"x":1.37,"y":11.8},
{"x":1.0,"y":7.5},{"x":1.0,"y":5.8},{"x":1.02,"y":4.5},{"x":1.08,"y":3.2},{"x":1.12,"y":6.2},{"x":1.16,"y":1.6},{"x":1.18,"y":5.0},{"x":1.22,"y":3.8},{"x":1.25,"y":6.5},{"x":1.28,"y":4.5},{"x":1.3,"y":8.0},{"x":1.33,"y":5.5},{"x":1.36,"y":3.5},{"x":1.4,"y":7.2},{"x":1.43,"y":4.8},{"x":1.47,"y":3.0},{"x":1.5,"y":6.0},{"x":1.53,"y":9.0},{"x":1.56,"y":4.2},{"x":1.6,"y":7.0},{"x":1.64,"y":5.2},{"x":1.68,"y":9.2},{"x":1.72,"y":1.6},{"x":1.75,"y":4.5},{"x":1.78,"y":6.8},{"x":1.82,"y":5.0},{"x":1.85,"y":8.5},{"x":1.9,"y":4.2},{"x":1.95,"y":7.5},{"x":2.0,"y":5.5},{"x":2.03,"y":9.8},{"x":2.06,"y":7.0},{"x":2.08,"y":4.0},{"x":2.1,"y":6.5},{"x":2.13,"y":8.2},{"x":2.16,"y":5.8},{"x":2.2,"y":7.0},{"x":2.22,"y":4.3},{"x":2.26,"y":9.5},{"x":2.3,"y":6.2},{"x":2.35,"y":4.0},{"x":2.4,"y":7.5},{"x":2.44,"y":5.0},{"x":2.48,"y":9.0},{"x":2.52,"y":2.8},{"x":2.56,"y":6.0},{"x":2.6,"y":3.0},{"x":2.64,"y":7.8},{"x":2.68,"y":9.2},{"x":2.72,"y":5.5},{"x":2.76,"y":8.5},{"x":2.8,"y":3.5},{"x":2.85,"y":6.8},{"x":2.9,"y":4.5},{"x":2.95,"y":8.0},{"x":2.98,"y":5.8},{"x":3.02,"y":4.0},{"x":3.06,"y":9.5},{"x":3.1,"y":7.0},{"x":3.15,"y":5.2},{"x":3.2,"y":8.2},{"x":3.25,"y":4.2},{"x":3.3,"y":6.5},{"x":3.34,"y":3.2},{"x":3.38,"y":7.2},{"x":3.42,"y":5.8},{"x":3.46,"y":9.0},{"x":3.5,"y":6.0},{"x":3.55,"y":2.4},{"x":3.6,"y":7.8},{"x":3.65,"y":4.8},{"x":3.7,"y":9.5},{"x":3.75,"y":6.5},{"x":3.8,"y":4.2},{"x":3.85,"y":7.8},{"x":3.9,"y":2.5},{"x":3.94,"y":6.0},{"x":3.98,"y":9.0},{"x":4.02,"y":4.5},{"x":4.08,"y":6.8},{"x":4.12,"y":3.8},{"x":4.16,"y":8.0},{"x":4.2,"y":5.5},{"x":4.24,"y":4.0},{"x":4.28,"y":6.2},{"x":4.34,"y":9.2},{"x":4.38,"y":5.0},{"x":4.44,"y":3.5},{"x":4.48,"y":7.0},{"x":4.52,"y":8.2},{"x":4.58,"y":2.8},{"x":4.62,"y":7.4},{"x":4.66,"y":8.6},{"x":4.7,"y":7.2}
 ],
 "gf": [
{"x":1.0,"lo":7.75,"hi":12.25,"fit":10.0},{"x":1.46,"lo":8.64,"hi":12.18,"fit":10.41},{"x":1.93,"lo":9.51,"hi":12.15,"fit":10.83},{"x":2.39,"lo":10.28,"hi":12.2,"fit":11.24},{"x":2.85,"lo":10.85,"hi":12.45,"fit":11.65},{"x":3.31,"lo":11.1,"hi":13.02,"fit":12.06},{"x":3.77,"lo":11.16,"hi":13.8,"fit":12.48},{"x":4.23,"lo":11.12,"hi":14.66,"fit":12.89},{"x":4.69,"lo":11.05,"hi":15.55,"fit":13.3}
 ],
 "h": [
{"x":1.17,"y":4.76},{"x":1.23,"y":4.76},{"x":1.3,"y":4.76},{"x":1.36,"y":4.73},{"x":1.41,"y":4.76},{"x":1.48,"y":4.76},{"x":1.54,"y":4.76},{"x":1.6,"y":4.76},{"x":1.67,"y":4.76},{"x":1.73,"y":4.76},{"x":1.81,"y":4.73},{"x":1.98,"y":4.76},{"x":2.03,"y":4.76},{"x":2.08,"y":4.73},{"x":2.14,"y":4.76},{"x":2.2,"y":4.76},{"x":2.25,"y":4.76},{"x":2.3,"y":4.76},{"x":2.36,"y":4.76},{"x":2.41,"y":4.76},{"x":2.84,"y":4.76},{"x":2.97,"y":4.76},{"x":3.05,"y":4.73},{"x":3.32,"y":4.76},{"x":3.35,"y":4.73},{"x":3.71,"y":4.76},{"x":4.14,"y":4.76},{"x":4.2,"y":4.76},{"x":4.25,"y":4.76},
{"x":1.08,"y":3.46},{"x":1.17,"y":3.46},{"x":1.29,"y":3.46},{"x":1.42,"y":3.46},{"x":1.44,"y":3.41},{"x":2.05,"y":3.46},{"x":2.93,"y":3.46},{"x":3.37,"y":3.46},{"x":3.78,"y":3.46},{"x":4.11,"y":3.46},{"x":4.21,"y":3.46},{"x":4.23,"y":3.42},{"x":4.71,"y":3.46},
{"x":0.99,"y":3.03},{"x":1.22,"y":3.03},{"x":1.29,"y":3.03},{"x":1.36,"y":3.03},{"x":1.44,"y":3.03},{"x":1.48,"y":3.03},{"x":1.55,"y":3.03},{"x":1.72,"y":3.03},{"x":1.74,"y":3.03},{"x":2.06,"y":3.03},{"x":2.11,"y":3.03},{"x":2.17,"y":3.03},{"x":2.26,"y":3.03},{"x":2.81,"y":3.03},{"x":2.98,"y":3.03},{"x":3.16,"y":3.03},{"x":3.31,"y":3.03},{"x":3.76,"y":3.03},{"x":4.27,"y":3.03},{"x":4.36,"y":3.03},{"x":4.42,"y":3.03},{"x":4.49,"y":3.03},
{"x":1.15,"y":2.99},{"x":1.24,"y":2.93},{"x":1.36,"y":2.87},{"x":1.52,"y":2.93},{"x":2.27,"y":2.93},{"x":2.79,"y":2.98},{"x":3.19,"y":2.88},{"x":3.71,"y":2.98},{"x":3.92,"y":3.01},{"x":4.06,"y":2.93},{"x":4.21,"y":2.93},{"x":4.57,"y":2.93},{"x":4.61,"y":3.03},{"x":3.66,"y":3.22},{"x":3.73,"y":2.93},{"x":3.71,"y":2.84},
{"x":1.46,"y":2.71},{"x":1.72,"y":2.89},{"x":1.86,"y":2.54},{"x":1.92,"y":2.56},{"x":2.0,"y":2.41},{"x":2.08,"y":2.44},{"x":2.14,"y":2.56},{"x":2.03,"y":2.39},{"x":2.2,"y":2.3},{"x":2.28,"y":2.43},{"x":2.52,"y":2.3},{"x":2.59,"y":2.37},{"x":2.62,"y":2.57},{"x":2.73,"y":2.78},{"x":2.76,"y":2.56},{"x":2.81,"y":2.41},{"x":2.93,"y":2.61},{"x":3.06,"y":2.47},{"x":3.09,"y":2.54},{"x":3.22,"y":2.18},{"x":3.28,"y":2.32},{"x":3.26,"y":2.66},{"x":3.37,"y":2.44},{"x":3.41,"y":2.41},{"x":3.44,"y":2.27},{"x":3.57,"y":2.37},{"x":3.62,"y":2.47},{"x":3.85,"y":2.51},{"x":3.89,"y":2.61},{"x":4.04,"y":2.51},{"x":4.09,"y":2.44},{"x":4.49,"y":2.71},{"x":4.58,"y":2.41},{"x":4.68,"y":2.71},{"x":4.65,"y":2.24},{"x":4.47,"y":2.0},{"x":4.04,"y":2.2},{"x":4.19,"y":2.51},{"x":3.82,"y":2.98},{"x":3.5,"y":2.39},{"x":3.31,"y":1.9},
{"x":1.13,"y":2.35},{"x":1.32,"y":2.3},{"x":1.48,"y":2.1},{"x":1.41,"y":2.1},{"x":1.67,"y":2.3},{"x":1.73,"y":2.25},{"x":1.72,"y":2.0},{"x":1.49,"y":1.81},{"x":1.0,"y":2.0},{"x":1.03,"y":2.0},{"x":1.24,"y":2.0},{"x":1.07,"y":1.66},{"x":1.36,"y":1.56},{"x":1.63,"y":1.66},{"x":1.73,"y":1.89},{"x":1.82,"y":1.97},{"x":1.79,"y":1.43},{"x":1.86,"y":1.55},{"x":1.88,"y":1.26},{"x":2.17,"y":1.66},{"x":2.19,"y":2.0},{"x":2.25,"y":2.3},{"x":2.44,"y":2.16},{"x":2.45,"y":1.97},{"x":2.62,"y":2.0},{"x":2.64,"y":1.84},{"x":2.44,"y":1.49},{"x":2.49,"y":1.26},{"x":2.69,"y":1.37},{"x":2.72,"y":1.29},{"x":2.79,"y":1.26},{"x":2.81,"y":2.0},{"x":2.87,"y":2.1},{"x":2.93,"y":2.0},{"x":2.97,"y":1.7},{"x":2.99,"y":1.56},{"x":2.98,"y":1.43},{"x":3.09,"y":2.0},{"x":3.17,"y":2.18},{"x":3.25,"y":1.24},{"x":3.28,"y":1.59},{"x":3.31,"y":1.12},{"x":3.35,"y":1.21},{"x":3.38,"y":1.66},{"x":3.38,"y":1.53},{"x":3.45,"y":1.21},{"x":3.5,"y":1.02},{"x":3.6,"y":0.85},{"x":3.63,"y":0.65},{"x":3.77,"y":1.02},{"x":3.79,"y":1.43},{"x":3.82,"y":1.66},{"x":3.85,"y":2.0},{"x":3.89,"y":1.73},{"x":3.9,"y":2.03},{"x":3.94,"y":2.03},{"x":3.89,"y":1.7},{"x":3.9,"y":0.95},{"x":4.06,"y":1.32},{"x":4.14,"y":1.9},{"x":4.17,"y":1.63},{"x":4.2,"y":1.29},{"x":4.15,"y":2.03},{"x":4.21,"y":2.0},{"x":4.31,"y":2.0},{"x":4.38,"y":1.56},{"x":4.39,"y":2.0},{"x":4.41,"y":0.89},{"x":4.52,"y":1.16},{"x":4.55,"y":0.75},{"x":4.65,"y":1.97},
{"x":1.12,"y":0.93},{"x":1.73,"y":0.92},{"x":1.82,"y":0.99},{"x":1.86,"y":0.95},{"x":2.19,"y":1.0},{"x":2.45,"y":0.91},{"x":2.01,"y":1.2},{"x":2.16,"y":1.22},{"x":3.16,"y":0.93},{"x":3.19,"y":1.0},{"x":3.22,"y":1.02},{"x":3.52,"y":1.21},{"x":3.87,"y":0.97}
 ],
 "hf": [
{"x":1.0,"lo":2.7,"hi":3.28,"fit":2.99},{"x":1.46,"lo":2.68,"hi":3.14,"fit":2.91},{"x":1.93,"lo":2.66,"hi":3.0,"fit":2.83},{"x":2.39,"lo":2.63,"hi":2.87,"fit":2.75},{"x":2.85,"lo":2.57,"hi":2.77,"fit":2.665},{"x":3.31,"lo":2.46,"hi":2.7,"fit":2.58},{"x":3.77,"lo":2.33,"hi":2.67,"fit":2.5},{"x":4.23,"lo":2.19,"hi":2.65,"fit":2.42},{"x":4.69,"lo":2.05,"hi":2.63,"fit":2.34}
 ]
},
"spacing": 14.5,
"vconcat": [
 {"spacing": 9.5, "vconcat": [
  {"spacing": 27, "hconcat": [
    {"width": 322, "height": 339,
     "title": {"text": "A", "dx": -62, "dy": 12.4},
     "data": {"name": "corr"},
     "layer": [
      {"mark": {"type": "rect", "stroke": "#5a5a5a", "strokeWidth": 0.6},
       "encoding": {
        "x": {"field": "c", "type": "nominal", "scale": {"domain": ["HIF-1α","SpO2/FiO2","MAP","SaO2","FiO2","WBC","aCCI","qSOFA","SOFA","ALT","AST","BUN","Cr"], "paddingInner": 0, "paddingOuter": 0}, "axis": {"title": null, "labelAngle": -45, "domain": false, "ticks": false, "labelFontSize": 9.3, "labelPadding": 2, "labelColor": "#333"}},
        "y": {"field": "r", "type": "nominal", "scale": {"domain": ["HIF-1α","SpO2/FiO2","MAP","SaO2","FiO2","WBC","aCCI","qSOFA","SOFA","ALT","AST","BUN","Cr"], "paddingInner": 0, "paddingOuter": 0}, "axis": {"title": null, "domain": false, "ticks": false, "labelFontSize": 9.3, "labelPadding": 4, "labelColor": "#333"}},
        "fill": {"field": "v", "type": "quantitative", "scale": {"domain": [-1, 0, 1], "range": ["#5BA3BE", "#FFFFFF", "#C6463A"], "interpolate": "rgb"},
          "legend": {"title": "Cor", "orient": "none", "legendX": 264, "legendY": 62, "direction": "vertical", "gradientLength": 65, "gradientThickness": 14, "values": [-1, -0.5, 0, 0.5, 1], "labelExpr": "replace(format(datum.value, '.1f'), '\u2212', '-')", "titleFontSize": 9.5, "titleFontWeight": "normal", "titleColor": "#333", "labelFontSize": 9.5, "labelColor": "#333", "titlePadding": 3, "labelOffset": 5, "gradientStrokeWidth": 0}}
       }},
      {"transform": [{"filter": "datum.s != ''"}],
       "mark": {"type": "text", "fontSize": 10, "color": "#333", "baseline": "middle", "dy": 2},
       "encoding": {
        "x": {"field": "c", "type": "nominal"},
        "y": {"field": "r", "type": "nominal"},
        "text": {"field": "s"},
        "opacity": {"field": "s", "type": "ordinal", "scale": {"domain": ["*", "**", "***"], "range": [1, 1, 1]},
          "legend": {"title": null, "orient": "none", "legendX": 257, "legendY": 3, "labelExpr": "datum.label == '*' ? '* p < 0.05' : datum.label == '**' ? '** p < 0.01' : '*** p < 0.001'", "symbolSize": 0, "symbolStrokeWidth": 0, "labelFontSize": 9, "labelColor": "#222", "rowPadding": 9, "labelOffset": 0}}
       }}
     ]},
   {"width": 340, "height": 361,
    "title": {"text": "B", "dx": -46, "dy": 11.4},
    "layer": [
     {"data": {"name": "bpts"}, "mark": {"type": "circle", "size": 42, "opacity": 0.92},
      "encoding": {
       "x": {"field": "x", "type": "quantitative", "scale": {"domain": [-0.6, 3.6], "nice": false, "zero": false}, "axis": {"values": [0, 1, 2, 3], "labelExpr": "'qSOFA(' + datum.value + ')'", "title": null, "labelPadding": 4}},
       "y": {"field": "y", "type": "quantitative", "scale": {"domain": [0.8, 7.33], "nice": false, "zero": false}, "axis": {"values": [1, 2, 3, 4, 5, 6, 7], "title": "HIF-1α", "labelPadding": 5}},
       "color": {"field": "g", "type": "nominal", "scale": {"domain": [0, 1, 2, 3], "range": ["#6AB1CF", "#C8493D", "#3F9479", "#E38D77"]}, "legend": null}
      }},
     {"data": {"name": "bsum"}, "mark": {"type": "rule", "color": "#000", "strokeWidth": 1.2},
      "encoding": {"x": {"field": "g", "type": "quantitative"}, "y": {"field": "lo", "type": "quantitative"}, "y2": {"field": "hi"}}},
     {"data": {"name": "bsum"}, "mark": {"type": "tick", "orient": "horizontal", "size": 12, "thickness": 1.2, "color": "#000"},
      "encoding": {"x": {"field": "g", "type": "quantitative"}, "y": {"field": "lo", "type": "quantitative"}}},
     {"data": {"name": "bsum"}, "mark": {"type": "tick", "orient": "horizontal", "size": 12, "thickness": 1.2, "color": "#000"},
      "encoding": {"x": {"field": "g", "type": "quantitative"}, "y": {"field": "hi", "type": "quantitative"}}},
     {"data": {"name": "bsum"}, "mark": {"type": "tick", "orient": "horizontal", "size": 26, "thickness": 1.2, "color": "#000"},
      "encoding": {"x": {"field": "g", "type": "quantitative"}, "y": {"field": "m", "type": "quantitative"}}},
     {"data": {"name": "bsum"}, "mark": {"type": "point", "shape": "circle", "filled": true, "size": 40, "fill": "white", "stroke": "#000", "strokeWidth": 1.1, "opacity": 1},
      "encoding": {"x": {"field": "g", "type": "quantitative"}, "y": {"field": "m", "type": "quantitative"}}},
     {"data": {"name": "bbr"}, "mark": {"type": "rule", "color": "#000", "strokeWidth": 1.1},
      "encoding": {"x": {"field": "a", "type": "quantitative"}, "x2": {"field": "b"}, "y": {"field": "h", "type": "quantitative"}}},
     {"data": {"name": "bbr"}, "mark": {"type": "rule", "color": "#000", "strokeWidth": 1.1},
      "encoding": {"x": {"field": "a", "type": "quantitative"}, "y": {"field": "h", "type": "quantitative"}, "y2": {"field": "t"}}},
     {"data": {"name": "bbr"}, "mark": {"type": "rule", "color": "#000", "strokeWidth": 1.1},
      "encoding": {"x": {"field": "b", "type": "quantitative"}, "y": {"field": "h", "type": "quantitative"}, "y2": {"field": "t"}}},
     {"data": {"name": "bbr"}, "transform": [{"filter": "datum.lab == 'ns'"}], "mark": {"type": "text", "fontSize": 10.5, "color": "#222", "baseline": "alphabetic", "dy": -3},
      "encoding": {"x": {"field": "m", "type": "quantitative"}, "y": {"field": "h", "type": "quantitative"}, "text": {"field": "lab"}}},
     {"data": {"name": "bbr"}, "transform": [{"filter": "datum.lab != 'ns'"}], "mark": {"type": "text", "fontSize": 10.5, "color": "#222", "baseline": "alphabetic", "dy": 1},
      "encoding": {"x": {"field": "m", "type": "quantitative"}, "y": {"field": "h", "type": "quantitative"}, "text": {"field": "lab"}}}
    ]}
  ]},
  {"spacing": 19, "hconcat": [
   {"spacing": 15, "hconcat": [
    {"width": 193, "height": 216,
     "title": {"text": "C", "dx": -62, "dy": 12.4},
     "layer": [
      {"data": {"name": "c"}, "mark": {"type": "circle", "size": 42, "color": "#4BA6C2", "opacity": 0.7},
       "encoding": {"x": {"field": "x", "type": "quantitative", "scale": {"domain": [0.87, 4.8], "nice": false, "zero": false}, "axis": {"values": [1, 2, 3, 4], "title": "HIF-1α"}},
        "y": {"field": "y", "type": "quantitative", "scale": {"domain": [-0.59, 17.52], "nice": false, "zero": false}, "axis": {"values": [0, 5, 10, 15], "title": "SOFA"}}}},
      {"data": {"name": "cf"}, "mark": {"type": "area", "color": "#999999", "opacity": 0.35, "interpolate": "monotone"},
       "encoding": {"x": {"field": "x", "type": "quantitative"}, "y": {"field": "lo", "type": "quantitative"}, "y2": {"field": "hi"}}},
      {"data": {"name": "cf"}, "mark": {"type": "line", "color": "#5AA9C5", "strokeWidth": 1.1},
       "encoding": {"x": {"field": "x", "type": "quantitative"}, "y": {"field": "fit", "type": "quantitative"}}},
      {"data": {"values": [{}]}, "mark": {"type": "text", "align": "right", "baseline": "middle", "fontSize": 11, "lineHeight": 13.3, "color": "#222"},
       "encoding": {"x": {"datum": 4.66}, "y": {"datum": 16.71}, "text": {"value": ["Spearman", "= 0.152", "= 0.022"]}}},
      {"data": {"values": [{}]}, "mark": {"type": "text", "align": "right", "baseline": "middle", "fontSize": 11, "lineHeight": 13.3, "color": "#222", "fontStyle": "italic", "dx": -40.1},
       "encoding": {"x": {"datum": 4.66}, "y": {"datum": 16.71}, "text": {"value": ["", "R", "P"]}}}
     ]},
    {"width": 212, "height": 216,
     "title": {"text": "D", "dx": -43, "dy": 12.4},
     "layer": [
      {"data": {"name": "d"}, "mark": {"type": "circle", "size": 42, "color": "#4BA6C2", "opacity": 0.7},
       "encoding": {"x": {"field": "x", "type": "quantitative", "scale": {"domain": [0.87, 4.8], "nice": false, "zero": false}, "axis": {"values": [1, 2, 3, 4], "title": "HIF-1α"}},
        "y": {"field": "y", "type": "quantitative", "scale": {"domain": [-0.28, 8.2], "nice": false, "zero": false}, "axis": {"values": [0, 2, 4, 6, 8], "title": "aCCI"}}}},
      {"data": {"name": "df"}, "mark": {"type": "area", "color": "#999999", "opacity": 0.35, "interpolate": "monotone"},
       "encoding": {"x": {"field": "x", "type": "quantitative"}, "y": {"field": "lo", "type": "quantitative"}, "y2": {"field": "hi"}}},
      {"data": {"name": "df"}, "mark": {"type": "line", "color": "#5AA9C5", "strokeWidth": 1.1},
       "encoding": {"x": {"field": "x", "type": "quantitative"}, "y": {"field": "fit", "type": "quantitative"}}},
      {"data": {"values": [{}]}, "mark": {"type": "text", "align": "right", "baseline": "middle", "fontSize": 11, "lineHeight": 13.3, "color": "#222"},
       "encoding": {"x": {"datum": 4.67}, "y": {"datum": 7.8}, "text": {"value": ["Spearman", "= 0.145", "= 0.029"]}}},
      {"data": {"values": [{}]}, "mark": {"type": "text", "align": "right", "baseline": "middle", "fontSize": 11, "lineHeight": 13.3, "color": "#222", "fontStyle": "italic", "dx": -40.1},
       "encoding": {"x": {"datum": 4.67}, "y": {"datum": 7.8}, "text": {"value": ["", "R", "P"]}}}
     ]}
   ]},
   {"width": 195, "height": 216,
    "title": {"text": "E", "dx": -56, "dy": 12.4},
    "layer": [
     {"data": {"name": "e"}, "mark": {"type": "circle", "size": 42, "color": "#4BA6C2", "opacity": 0.7},
      "encoding": {"x": {"field": "x", "type": "quantitative", "scale": {"domain": [0.87, 4.8], "nice": false, "zero": false}, "axis": {"values": [1, 2, 3, 4], "title": "HIF-1α"}},
       "y": {"field": "y", "type": "quantitative", "scale": {"domain": [18.2, 102.3], "nice": false, "zero": false}, "axis": {"values": [20, 40, 60, 80, 100], "title": "FiO2"}}}},
     {"data": {"name": "ef"}, "mark": {"type": "area", "color": "#999999", "opacity": 0.35, "interpolate": "monotone"},
      "encoding": {"x": {"field": "x", "type": "quantitative"}, "y": {"field": "lo", "type": "quantitative"}, "y2": {"field": "hi"}}},
     {"data": {"name": "ef"}, "mark": {"type": "line", "color": "#5AA9C5", "strokeWidth": 1.1},
      "encoding": {"x": {"field": "x", "type": "quantitative"}, "y": {"field": "fit", "type": "quantitative"}}},
     {"data": {"values": [{}]}, "mark": {"type": "text", "align": "right", "baseline": "middle", "fontSize": 11, "lineHeight": 13.3, "color": "#222"},
      "encoding": {"x": {"datum": 4.72}, "y": {"datum": 98.4}, "text": {"value": ["Spearman", "= 0.144", "= 0.030"]}}},
     {"data": {"values": [{}]}, "mark": {"type": "text", "align": "right", "baseline": "middle", "fontSize": 11, "lineHeight": 13.3, "color": "#222", "fontStyle": "italic", "dx": -40.1},
      "encoding": {"x": {"datum": 4.72}, "y": {"datum": 98.4}, "text": {"value": ["", "R", "P"]}}}
    ]}
  ]}
 ]},
 {"spacing": 18, "hconcat": [
  {"spacing": 5, "hconcat": [
   {"width": 193, "height": 214,
    "title": {"text": "F", "dx": -62, "dy": 11.4},
    "layer": [
     {"data": {"name": "f"}, "mark": {"type": "circle", "size": 42, "color": "#4BA6C2", "opacity": 0.7},
      "encoding": {"x": {"field": "x", "type": "quantitative", "scale": {"domain": [0.87, 4.8], "nice": false, "zero": false}, "axis": {"values": [1, 2, 3, 4], "title": "HIF-1α"}},
       "y": {"field": "y", "type": "quantitative", "scale": {"domain": [-13.5, 1432], "nice": false, "zero": false}, "axis": {"values": [0, 500, 1000], "title": "Cr"}}}},
     {"data": {"name": "ff"}, "mark": {"type": "area", "color": "#999999", "opacity": 0.35, "interpolate": "monotone"},
      "encoding": {"x": {"field": "x", "type": "quantitative"}, "y": {"field": "lo", "type": "quantitative"}, "y2": {"field": "hi"}}},
     {"data": {"name": "ff"}, "mark": {"type": "line", "color": "#5AA9C5", "strokeWidth": 1.1},
      "encoding": {"x": {"field": "x", "type": "quantitative"}, "y": {"field": "fit", "type": "quantitative"}}},
     {"data": {"values": [{}]}, "mark": {"type": "text", "align": "right", "baseline": "middle", "fontSize": 11, "lineHeight": 13.3, "color": "#222"},
      "encoding": {"x": {"datum": 4.617}, "y": {"datum": 1357.7}, "text": {"value": ["Spearman", "= 0.143", "= 0.031"]}}},
     {"data": {"values": [{}]}, "mark": {"type": "text", "align": "right", "baseline": "middle", "fontSize": 11, "lineHeight": 13.3, "color": "#222", "fontStyle": "italic", "dx": -40.1},
      "encoding": {"x": {"datum": 4.617}, "y": {"datum": 1357.7}, "text": {"value": ["", "R", "P"]}}}
    ]},
   {"width": 204, "height": 214,
    "title": {"text": "G", "dx": -61, "dy": 11.4},
    "layer": [
     {"data": {"name": "g"}, "mark": {"type": "circle", "size": 42, "color": "#4BA6C2", "opacity": 0.7},
      "encoding": {"x": {"field": "x", "type": "quantitative", "scale": {"domain": [0.87, 4.8], "nice": false, "zero": false}, "axis": {"values": [1, 2, 3, 4], "title": "HIF-1α"}},
       "y": {"field": "y", "type": "quantitative", "scale": {"domain": [0.22, 52.96], "nice": false, "zero": false}, "axis": {"values": [10, 20, 30, 40, 50], "title": "BUN"}}}},
     {"data": {"name": "gf"}, "mark": {"type": "area", "color": "#999999", "opacity": 0.35, "interpolate": "monotone"},
      "encoding": {"x": {"field": "x", "type": "quantitative"}, "y": {"field": "lo", "type": "quantitative"}, "y2": {"field": "hi"}}},
     {"data": {"name": "gf"}, "mark": {"type": "line", "color": "#5AA9C5", "strokeWidth": 1.1},
      "encoding": {"x": {"field": "x", "type": "quantitative"}, "y": {"field": "fit", "type": "quantitative"}}},
     {"data": {"values": [{}]}, "mark": {"type": "text", "align": "right", "baseline": "middle", "fontSize": 11, "lineHeight": 13.3, "color": "#222"},
      "encoding": {"x": {"datum": 4.646}, "y": {"datum": 50.25}, "text": {"value": ["Spearman", "= 0.148", "= 0.025"]}}},
     {"data": {"values": [{}]}, "mark": {"type": "text", "align": "right", "baseline": "middle", "fontSize": 11, "lineHeight": 13.3, "color": "#222", "fontStyle": "italic", "dx": -40.1},
      "encoding": {"x": {"datum": 4.646}, "y": {"datum": 50.25}, "text": {"value": ["", "R", "P"]}}}
    ]}
  ]},
  {"width": 204, "height": 214,
   "title": {"text": "H", "dx": -48, "dy": 11.4},
   "layer": [
    {"data": {"name": "h"}, "mark": {"type": "circle", "size": 42, "color": "#4BA6C2", "opacity": 0.7},
     "encoding": {"x": {"field": "x", "type": "quantitative", "scale": {"domain": [0.87, 4.8], "nice": false, "zero": false}, "axis": {"values": [1, 2, 3, 4], "title": "HIF-1α"}},
      "y": {"field": "y", "type": "quantitative", "scale": {"domain": [0.54, 4.88], "nice": false, "zero": false}, "axis": {"values": [1, 2, 3, 4], "title": "SpO2/FiO2"}}}},
    {"data": {"name": "hf"}, "mark": {"type": "area", "color": "#999999", "opacity": 0.35, "interpolate": "monotone"},
     "encoding": {"x": {"field": "x", "type": "quantitative"}, "y": {"field": "lo", "type": "quantitative"}, "y2": {"field": "hi"}}},
    {"data": {"name": "hf"}, "mark": {"type": "line", "color": "#5AA9C5", "strokeWidth": 1.1},
     "encoding": {"x": {"field": "x", "type": "quantitative"}, "y": {"field": "fit", "type": "quantitative"}}},
    {"data": {"values": [{}]}, "mark": {"type": "text", "align": "right", "baseline": "middle", "fontSize": 11, "lineHeight": 13.3, "color": "#222"},
     "encoding": {"x": {"datum": 4.7}, "y": {"datum": 4.657}, "text": {"value": ["Spearman", "= -0.151", "= 0.023"]}}},
    {"data": {"values": [{}]}, "mark": {"type": "text", "align": "right", "baseline": "middle", "fontSize": 11, "color": "#222", "fontStyle": "italic", "dx": -46.5},
     "encoding": {"x": {"datum": 4.7}, "y": {"datum": 4.387}, "text": {"value": "R"}}},
    {"data": {"values": [{}]}, "mark": {"type": "text", "align": "right", "baseline": "middle", "fontSize": 11, "color": "#222", "fontStyle": "italic", "dx": -40.1},
     "encoding": {"x": {"datum": 4.7}, "y": {"datum": 4.117}, "text": {"value": "P"}}}
   ]}
 ]}
]
}
